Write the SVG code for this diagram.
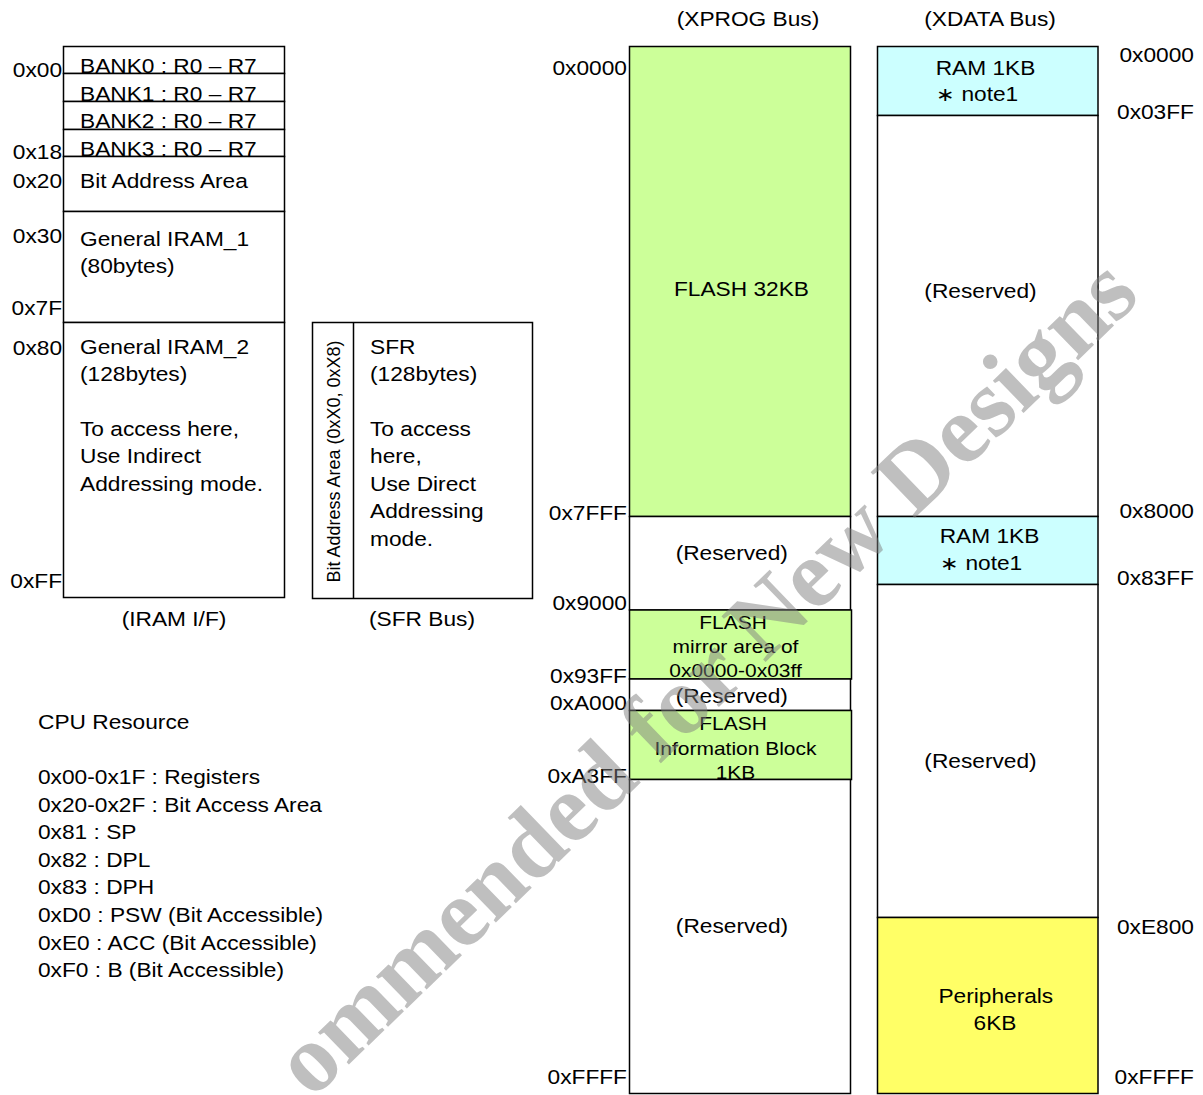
<svg xmlns="http://www.w3.org/2000/svg" width="1203" height="1095" viewBox="0 0 1203 1095">
<style>
.t { font-family: "Liberation Sans", Arial, sans-serif; font-size: 19.5px; fill: #000; transform: scale(1.165, 1); }
.s { font-size: 18px; }
.m { text-anchor: middle; }
.e { text-anchor: end; }
.v { font-family: "Liberation Sans", Arial, sans-serif; font-size: 18px; fill: #000; text-anchor: middle; }
.box { stroke: #000; stroke-width: 1.5; }
.w { fill: #fff; }
.g { fill: #ccff99; }
.c { fill: #ccffff; }
.y { fill: #ffff66; }
.ln { stroke: #000; stroke-width: 1.5; fill: none; }
.wm { font-family: "Liberation Serif", "Times New Roman", serif; font-weight: bold; font-size: 97px; fill: #808080; fill-opacity: 0.5; }
</style>
<rect width="1203" height="1095" fill="#fff"/>

<!-- IRAM -->
<g id="iram-bank0"><rect class="box w" x="63.5" y="46.5" width="221" height="27"/><text class="t" x="68.67" y="73.5">BANK0 : R0 – R7</text></g>
<g id="iram-bank1"><rect class="box w" x="63.5" y="73.5" width="221" height="28"/><text class="t" x="68.67" y="101">BANK1 : R0 – R7</text></g>
<g id="iram-bank2"><rect class="box w" x="63.5" y="101.5" width="221" height="28"/><text class="t" x="68.67" y="128.5">BANK2 : R0 – R7</text></g>
<g id="iram-bank3"><rect class="box w" x="63.5" y="129.5" width="221" height="27"/><text class="t" x="68.67" y="156">BANK3 : R0 – R7</text></g>
<g id="iram-bitaddr"><rect class="box w" x="63.5" y="156.5" width="221" height="55"/><text class="t" x="68.67" y="188">Bit Address Area</text></g>
<g id="iram-general1"><rect class="box w" x="63.5" y="211.5" width="221" height="111"/><text class="t" x="68.67" y="246">General IRAM_1</text><text class="t" x="68.67" y="273.5">(80bytes)</text></g>
<g id="iram-general2"><rect class="box w" x="63.5" y="322.5" width="221" height="275"/><text class="t" x="68.67" y="354">General IRAM_2</text><text class="t" x="68.67" y="381.5">(128bytes)</text><text class="t" x="68.67" y="436">To access here,</text><text class="t" x="68.67" y="463.5">Use Indirect</text><text class="t" x="68.67" y="491">Addressing mode.</text></g>
<g id="iram-labels">
<text class="t e" x="53.3" y="77.5">0x00</text>
<text class="t e" x="53.3" y="159">0x18</text>
<text class="t e" x="53.3" y="188">0x20</text>
<text class="t e" x="53.3" y="243">0x30</text>
<text class="t e" x="53.3" y="315">0x7F</text>
<text class="t e" x="53.3" y="355">0x80</text>
<text class="t e" x="53.3" y="588">0xFF</text>
<text class="t m" x="149.36" y="626">(IRAM I/F)</text>
</g>

<!-- SFR -->
<g id="sfr">
<rect class="box w" x="312.5" y="322.5" width="220" height="276"/>
<line class="ln" x1="353.5" y1="322.5" x2="353.5" y2="598.5"/>
<text class="v" transform="translate(340 461.5) rotate(-90)">Bit Address Area (0xX0, 0xX8)</text>
<text class="t" x="317.6" y="354">SFR</text>
<text class="t" x="317.6" y="381.5">(128bytes)</text>
<text class="t" x="317.6" y="436">To access</text>
<text class="t" x="317.6" y="463.5">here,</text>
<text class="t" x="317.6" y="491">Use Direct</text>
<text class="t" x="317.6" y="518.5">Addressing</text>
<text class="t" x="317.6" y="546">mode.</text>
<text class="t m" x="362.23" y="626">(SFR Bus)</text>
</g>

<!-- CPU resource -->
<g id="cpu-resource">
<text class="t" x="32.62" y="729">CPU Resource</text>
<text class="t" x="32.62" y="784">0x00-0x1F : Registers</text>
<text class="t" x="32.62" y="812">0x20-0x2F : Bit Access Area</text>
<text class="t" x="32.62" y="839">0x81 : SP</text>
<text class="t" x="32.62" y="867">0x82 : DPL</text>
<text class="t" x="32.62" y="894">0x83 : DPH</text>
<text class="t" x="32.62" y="922">0xD0 : PSW (Bit Accessible)</text>
<text class="t" x="32.62" y="950">0xE0 : ACC (Bit Accessible)</text>
<text class="t" x="32.62" y="977">0xF0 : B (Bit Accessible)</text>
</g>

<!-- XPROG -->
<g id="xprog-flash32"><rect class="box g" x="629.5" y="46.5" width="221" height="470"/><text class="t m" x="636.48" y="296">FLASH 32KB</text></g>
<g id="xprog-reserved1"><rect class="box w" x="629.5" y="516.5" width="221" height="93.5"/><text class="t m" x="628.15" y="560">(Reserved)</text></g>
<g id="xprog-mirror"><rect class="box g" x="629.5" y="610" width="222" height="69"/><text class="t s m" x="629.18" y="629">FLASH</text><text class="t s m" x="631.33" y="653">mirror area of</text><text class="t s m" x="631.33" y="677.5">0x0000-0x03ff</text></g>
<g id="xprog-reserved2"><rect class="box w" x="629.5" y="679" width="221" height="31.5"/><text class="t m" x="628.15" y="703.5">(Reserved)</text></g>
<g id="xprog-info"><rect class="box g" x="629.5" y="710.5" width="222" height="69"/><text class="t s m" x="629.18" y="730">FLASH</text><text class="t s m" x="631.33" y="755">Information Block</text><text class="t s m" x="631.33" y="779">1KB</text></g>
<g id="xprog-reserved3"><rect class="box w" x="629.5" y="779.5" width="221" height="314"/><text class="t m" x="628.33" y="933">(Reserved)</text></g>
<g id="xprog-labels">
<text class="t m" x="642.06" y="26">(XPROG Bus)</text>
<text class="t e" x="538.2" y="75">0x0000</text>
<text class="t e" x="538.2" y="520.5">0x7FFF</text>
<text class="t e" x="538.2" y="610">0x9000</text>
<text class="t e" x="538.2" y="683">0x93FF</text>
<text class="t e" x="538.2" y="710.5">0xA000</text>
<text class="t e" x="538.2" y="783">0xA3FF</text>
<text class="t e" x="538.2" y="1084">0xFFFF</text>
</g>

<!-- XDATA -->
<g id="xdata-ram0"><rect class="box c" x="877.5" y="46.5" width="220.5" height="69"/><text class="t m" x="845.92" y="75">RAM 1KB</text><text class="t m" x="838.63" y="101.5">∗ note1</text></g>
<g id="xdata-reserved1"><rect class="box w" x="877.5" y="115.5" width="220.5" height="401"/><text class="t m" x="841.63" y="298">(Reserved)</text></g>
<g id="xdata-ram8"><rect class="box c" x="877.5" y="516.5" width="220.5" height="68"/><text class="t m" x="849.36" y="543">RAM 1KB</text><text class="t m" x="842.06" y="570">∗ note1</text></g>
<g id="xdata-reserved2"><rect class="box w" x="877.5" y="584.5" width="220.5" height="333"/><text class="t m" x="841.63" y="768">(Reserved)</text></g>
<g id="xdata-periph"><rect class="box y" x="877.5" y="917.5" width="220.5" height="176"/><text class="t m" x="854.76" y="1003">Peripherals</text><text class="t m" x="854.08" y="1030">6KB</text></g>
<g id="xdata-labels">
<text class="t m" x="849.79" y="26">(XDATA Bus)</text>
<text class="t e" x="1024.89" y="62">0x0000</text>
<text class="t e" x="1024.89" y="119">0x03FF</text>
<text class="t e" x="1024.89" y="518">0x8000</text>
<text class="t e" x="1024.89" y="585">0x83FF</text>
<text class="t e" x="1024.89" y="934">0xE800</text>
<text class="t e" x="1024.89" y="1084">0xFFFF</text>
</g>

<g id="connectors"/>

<!-- watermark -->
<text class="wm" transform="translate(312 1100) rotate(-44)">ommended for New Designs</text>
</svg>
